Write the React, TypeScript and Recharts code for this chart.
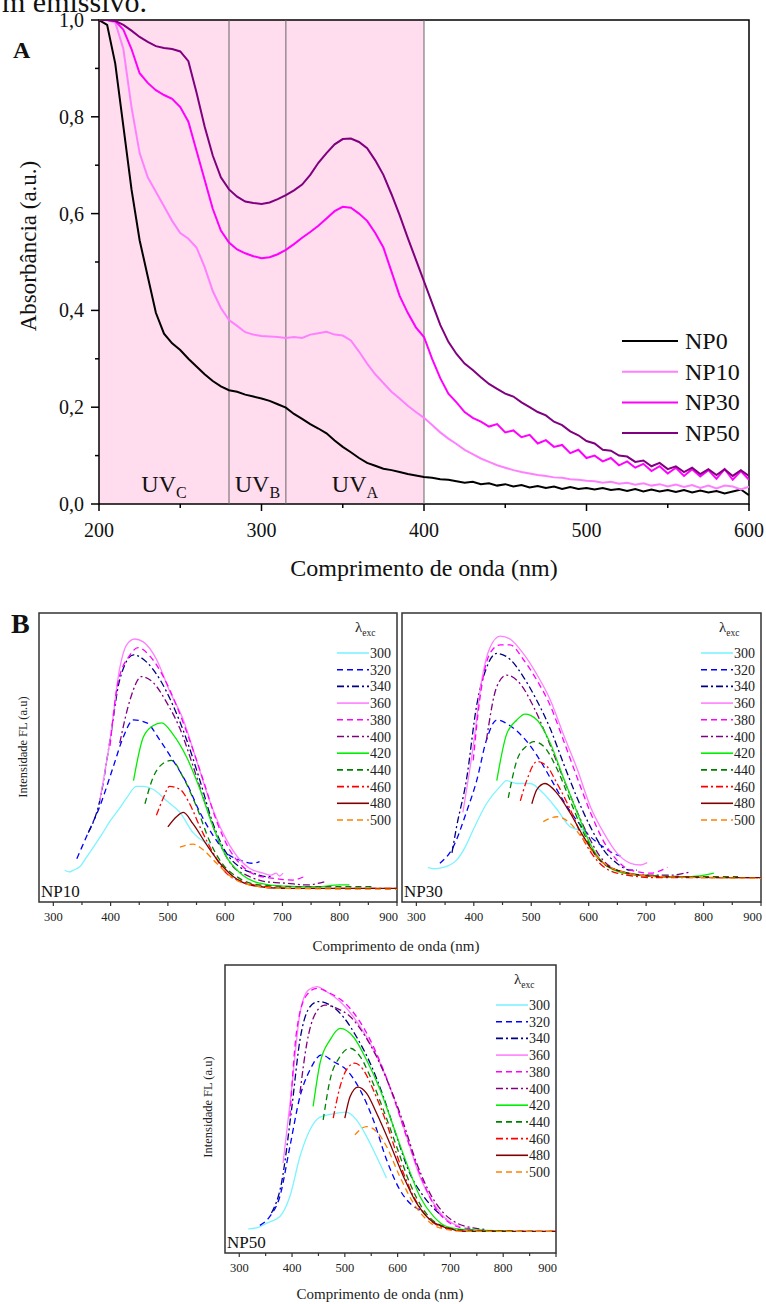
import { LineChart, Line, XAxis, YAxis, ReferenceArea, ReferenceLine } from "recharts"

const SERIF = '"Liberation Serif", "Times New Roman", Times, serif'

// ---------- panel A: absorbance ----------
const absWl = [
  200, 205, 210, 215, 220, 225, 230, 235, 240, 245,
  250, 255, 260, 265, 270, 275, 280, 285, 290, 295,
  300, 305, 310, 315, 320, 325, 330, 335, 340, 345,
  350, 355, 360, 365, 370, 375, 380, 385, 390, 395,
  400, 405, 410, 415, 420, 425, 430, 435, 440, 445,
  450, 455, 460, 465, 470, 475, 480, 485, 490, 495,
  500, 505, 510, 515, 520, 525, 530, 535, 540, 545,
  550, 555, 560, 565, 570, 575, 580, 585, 590, 595,
  600,
]
const absNP0 = [
  1.0, 0.99, 0.91, 0.78, 0.65, 0.545, 0.47, 0.395, 0.352, 0.332,
  0.318, 0.3, 0.284, 0.268, 0.254, 0.243, 0.235, 0.232, 0.226, 0.222,
  0.218, 0.213, 0.206, 0.199, 0.186, 0.176, 0.165, 0.156, 0.146, 0.131,
  0.118, 0.107, 0.095, 0.085, 0.079, 0.073, 0.07, 0.066, 0.062, 0.059,
  0.056, 0.054, 0.051, 0.05, 0.047, 0.044, 0.046, 0.041, 0.043, 0.038,
  0.041, 0.036, 0.039, 0.034, 0.037, 0.033, 0.036, 0.031, 0.035, 0.031,
  0.033, 0.03, 0.033, 0.029, 0.031, 0.027, 0.031, 0.026, 0.03, 0.026,
  0.029, 0.025, 0.029, 0.024, 0.028, 0.024, 0.027, 0.022, 0.026, 0.03,
  0.018,
]
const absNP10 = [
  1.0, 1.0, 0.995, 0.94, 0.82, 0.725, 0.675, 0.645, 0.615, 0.585,
  0.56, 0.548, 0.53, 0.49, 0.44, 0.405, 0.38, 0.368, 0.355, 0.35,
  0.347, 0.346, 0.345, 0.343, 0.345, 0.343, 0.35, 0.353, 0.356, 0.35,
  0.348, 0.338, 0.315, 0.29, 0.268, 0.25, 0.232, 0.218, 0.203, 0.19,
  0.178, 0.163, 0.148, 0.135, 0.124, 0.112, 0.103, 0.094, 0.087, 0.08,
  0.075, 0.07, 0.066, 0.063, 0.06, 0.058, 0.055, 0.054, 0.051, 0.05,
  0.048, 0.047, 0.044, 0.046, 0.042, 0.044, 0.04, 0.043, 0.038, 0.041,
  0.036, 0.04, 0.035, 0.039, 0.033, 0.038, 0.032, 0.038, 0.036, 0.03,
  0.036,
]
const absNP30 = [
  1.0, 1.0, 0.998, 0.98, 0.94, 0.89, 0.87, 0.855, 0.845, 0.837,
  0.82, 0.79, 0.73, 0.67, 0.61, 0.565, 0.54, 0.526, 0.518, 0.512,
  0.508, 0.51, 0.516, 0.525, 0.537, 0.55, 0.562, 0.575, 0.59, 0.605,
  0.614, 0.612, 0.6, 0.585, 0.56, 0.53, 0.48, 0.43, 0.395, 0.365,
  0.345, 0.3, 0.26, 0.228, 0.21, 0.19, 0.178, 0.17, 0.16, 0.165,
  0.148, 0.152, 0.138, 0.143, 0.125, 0.132, 0.118, 0.122, 0.105, 0.112,
  0.095, 0.1, 0.088, 0.095, 0.08, 0.088, 0.075, 0.083, 0.068, 0.078,
  0.063, 0.075, 0.058, 0.072, 0.057, 0.07, 0.052, 0.072, 0.05, 0.068,
  0.05,
]
const absNP50 = [
  1.0, 1.0, 0.998, 0.99, 0.978, 0.965, 0.955, 0.946, 0.942, 0.94,
  0.935, 0.915, 0.85, 0.78, 0.72, 0.675, 0.65, 0.635, 0.625, 0.622,
  0.62, 0.623, 0.63, 0.638, 0.648, 0.66, 0.68, 0.705, 0.725, 0.743,
  0.754, 0.755, 0.748, 0.735, 0.71, 0.68, 0.64, 0.597, 0.55, 0.505,
  0.46, 0.415, 0.37, 0.335, 0.31, 0.29, 0.277, 0.262, 0.248, 0.238,
  0.228, 0.222, 0.21, 0.2, 0.19, 0.183, 0.17, 0.163, 0.15, 0.142,
  0.13, 0.125, 0.112, 0.11, 0.1, 0.098, 0.087, 0.09, 0.078, 0.085,
  0.072, 0.078, 0.066, 0.075, 0.062, 0.072, 0.06, 0.072, 0.058, 0.07,
  0.058,
]
const absNames = ["NP0", "NP10", "NP30", "NP50"]
const absColors = ["#000000", "#ff80ff", "#ff00ff", "#800080"]
const absTicksX = [200, 250, 300, 350, 400, 450, 500, 550, 600]
const absTicksY = [0, 0.1, 0.2, 0.3, 0.4, 0.5, 0.6, 0.7, 0.8, 0.9, 1.0]
const uvBands = [
  { x1: 200, x2: 280, sub: "C" },
  { x1: 280, x2: 315, sub: "B" },
  { x1: 315, x2: 400, sub: "A" },
]

const absRows = absWl.map((wl, i) => ({
  wl,
  NP0: absNP0[i],
  NP10: absNP10[i],
  NP30: absNP30[i],
  NP50: absNP50[i],
}))

// ---------- panel B: fluorescence, one array per excitation ----------
const exc = [300, 320, 340, 360, 380, 400, 420, 440, 460, 480, 500]
const excColors = ["#7cf4ff", "#0000ff", "#000080", "#ff80ff", "#ff00ff", "#800080", "#00ee00", "#008000", "#ff0000", "#800000", "#ff8000"]
const excDash = ["", "6 4", "7 3 2 3", "", "6 4", "7 3 2 3", "", "6 4", "7 3 2 3", "", "6 4"]
const flTicksX = [300, 350, 400, 450, 500, 550, 600, 650, 700, 750, 800, 850, 900]

const np10_300 = [[320, 0.11], [328, 0.104], [335, 0.11], [346, 0.122], [358, 0.155], [370, 0.19], [385, 0.235], [399, 0.28], [414, 0.32], [428, 0.36], [445, 0.4], [457, 0.4], [474, 0.39], [498, 0.35], [521, 0.31], [544, 0.24], [562, 0.21], [575, 0.2]]
const np10_320 = [[341, 0.15], [361, 0.24], [381, 0.33], [405, 0.47], [422, 0.57], [440, 0.63], [463, 0.62], [486, 0.56], [509, 0.49], [533, 0.41], [556, 0.31], [579, 0.23], [602, 0.17], [626, 0.145], [649, 0.134], [660, 0.14]]
const np10_340 = [[361, 0.24], [381, 0.35], [399, 0.56], [416, 0.77], [440, 0.855], [463, 0.83], [486, 0.77], [509, 0.68], [533, 0.56], [556, 0.42], [579, 0.27], [602, 0.17], [626, 0.12], [649, 0.1], [672, 0.088], [680, 0.09]]
const np10_360 = [[381, 0.35], [399, 0.56], [416, 0.81], [428, 0.89], [442, 0.91], [457, 0.9], [480, 0.84], [503, 0.73], [527, 0.63], [550, 0.49], [573, 0.35], [596, 0.24], [620, 0.16], [643, 0.116], [666, 0.1], [680, 0.093], [689, 0.1], [695, 0.09], [701, 0.1]]
const np10_380 = [[399, 0.54], [413, 0.76], [434, 0.855], [448, 0.88], [469, 0.85], [492, 0.78], [515, 0.68], [538, 0.56], [562, 0.42], [585, 0.28], [608, 0.18], [631, 0.122], [654, 0.093], [684, 0.082], [718, 0.076], [738, 0.088]]
const np10_400 = [[416, 0.55], [434, 0.7], [454, 0.78], [474, 0.76], [498, 0.69], [521, 0.6], [544, 0.47], [567, 0.33], [591, 0.2], [614, 0.122], [637, 0.093], [672, 0.07], [707, 0.065], [742, 0.059], [773, 0.07]]
const np10_420 = [[440, 0.42], [457, 0.57], [474, 0.61], [489, 0.62], [509, 0.58], [533, 0.5], [556, 0.39], [579, 0.26], [602, 0.157], [626, 0.1], [660, 0.065], [701, 0.055], [759, 0.053], [800, 0.059], [817, 0.059]]
const np10_440 = [[460, 0.34], [474, 0.43], [492, 0.48], [506, 0.49], [527, 0.43], [550, 0.33], [573, 0.21], [596, 0.13], [620, 0.088], [660, 0.059], [730, 0.053], [788, 0.053], [860, 0.053]]
const np10_460 = [[480, 0.3], [492, 0.36], [503, 0.4], [521, 0.39], [538, 0.34], [556, 0.26], [579, 0.17], [602, 0.1], [631, 0.07], [672, 0.053], [730, 0.047], [900, 0.047]]
const np10_480 = [[500, 0.26], [515, 0.295], [527, 0.31], [544, 0.27], [567, 0.2], [591, 0.134], [614, 0.088], [643, 0.059], [701, 0.047], [900, 0.047]]
const np10_500 = [[521, 0.19], [544, 0.2], [562, 0.18], [585, 0.134], [614, 0.082], [643, 0.059], [701, 0.047], [900, 0.044]]

const np30_300 = [[320, 0.12], [330, 0.115], [341, 0.117], [355, 0.125], [370, 0.145], [385, 0.19], [399, 0.25], [422, 0.34], [446, 0.4], [457, 0.42], [475, 0.41], [498, 0.41], [521, 0.376], [545, 0.32], [568, 0.26], [585, 0.25], [594, 0.25]]
const np30_320 = [[341, 0.134], [364, 0.19], [387, 0.31], [405, 0.42], [422, 0.56], [440, 0.63], [463, 0.61], [486, 0.57], [509, 0.51], [533, 0.43], [556, 0.35], [580, 0.28], [603, 0.226], [626, 0.19], [649, 0.163], [655, 0.16]]
const np30_340 = [[362, 0.17], [370, 0.26], [387, 0.42], [405, 0.68], [422, 0.81], [440, 0.86], [463, 0.84], [486, 0.78], [509, 0.7], [533, 0.6], [556, 0.48], [580, 0.36], [603, 0.26], [626, 0.18], [649, 0.134], [673, 0.11], [684, 0.11]]
const np30_360 = [[381, 0.31], [399, 0.54], [414, 0.77], [428, 0.88], [446, 0.92], [463, 0.91], [486, 0.86], [509, 0.79], [533, 0.7], [556, 0.58], [580, 0.46], [603, 0.33], [626, 0.24], [649, 0.17], [673, 0.134], [690, 0.128], [702, 0.136]]
const np30_380 = [[399, 0.49], [411, 0.71], [428, 0.86], [446, 0.89], [463, 0.89], [486, 0.84], [509, 0.77], [533, 0.68], [556, 0.56], [580, 0.43], [603, 0.31], [626, 0.21], [649, 0.145], [673, 0.11], [708, 0.1], [737, 0.12]]
const np30_400 = [[422, 0.56], [440, 0.745], [457, 0.785], [480, 0.757], [504, 0.676], [527, 0.572], [550, 0.457], [574, 0.34], [597, 0.238], [620, 0.157], [649, 0.11], [690, 0.093], [743, 0.093], [778, 0.105]]
const np30_420 = [[440, 0.42], [457, 0.58], [475, 0.63], [489, 0.65], [510, 0.63], [533, 0.55], [556, 0.43], [580, 0.31], [603, 0.2], [626, 0.134], [661, 0.1], [719, 0.088], [778, 0.088], [801, 0.093], [818, 0.1]]
const np30_440 = [[460, 0.36], [475, 0.49], [492, 0.54], [504, 0.555], [521, 0.54], [545, 0.46], [568, 0.35], [591, 0.24], [614, 0.157], [649, 0.11], [696, 0.093], [778, 0.088], [860, 0.088]]
const np30_460 = [[481, 0.35], [492, 0.42], [510, 0.486], [527, 0.47], [545, 0.41], [568, 0.32], [591, 0.215], [614, 0.145], [649, 0.1], [719, 0.084], [900, 0.084]]
const np30_480 = [[501, 0.34], [510, 0.39], [524, 0.41], [545, 0.376], [568, 0.307], [591, 0.226], [614, 0.157], [649, 0.11], [719, 0.088], [900, 0.084]]
const np30_500 = [[521, 0.278], [545, 0.295], [568, 0.272], [591, 0.215], [614, 0.157], [649, 0.11], [719, 0.088], [900, 0.082]]

const np50_300 = [[317, 0.084], [335, 0.088], [352, 0.104], [377, 0.127], [396, 0.197], [415, 0.335], [434, 0.428], [453, 0.472], [478, 0.483], [503, 0.489], [522, 0.462], [541, 0.405], [560, 0.335], [579, 0.26]]
const np50_320 = [[339, 0.096], [358, 0.127], [377, 0.197], [396, 0.37], [415, 0.543], [434, 0.636], [456, 0.688], [478, 0.665], [503, 0.636], [529, 0.566], [554, 0.462], [579, 0.324], [604, 0.22], [630, 0.162], [642, 0.15]]
const np50_340 = [[361, 0.139], [380, 0.243], [399, 0.497], [415, 0.74], [434, 0.855], [450, 0.873], [472, 0.861], [497, 0.82], [522, 0.751], [548, 0.659], [573, 0.543], [598, 0.405], [623, 0.277], [649, 0.197], [674, 0.145], [693, 0.116]]
const np50_360 = [[383, 0.312], [399, 0.566], [415, 0.832], [431, 0.913], [447, 0.925], [465, 0.908], [491, 0.873], [516, 0.821], [541, 0.751], [567, 0.659], [592, 0.543], [617, 0.405], [642, 0.266], [668, 0.173], [693, 0.116], [718, 0.092]]
const np50_380 = [[396, 0.474], [409, 0.775], [428, 0.896], [447, 0.919], [472, 0.902], [497, 0.873], [522, 0.821], [548, 0.74], [573, 0.636], [598, 0.509], [623, 0.37], [649, 0.243], [674, 0.15], [699, 0.104], [724, 0.087], [740, 0.085]]
const np50_400 = [[415, 0.555], [428, 0.728], [443, 0.827], [462, 0.861], [484, 0.85], [510, 0.821], [535, 0.763], [560, 0.682], [585, 0.578], [611, 0.451], [636, 0.312], [661, 0.208], [687, 0.139], [712, 0.104], [743, 0.087], [769, 0.081]]
const np50_420 = [[440, 0.509], [453, 0.659], [472, 0.74], [491, 0.78], [516, 0.751], [541, 0.671], [567, 0.566], [592, 0.439], [617, 0.312], [642, 0.197], [668, 0.127], [693, 0.092], [731, 0.081], [819, 0.077]]
const np50_440 = [[459, 0.462], [472, 0.601], [491, 0.682], [510, 0.711], [529, 0.682], [548, 0.613], [573, 0.497], [598, 0.37], [623, 0.243], [649, 0.15], [674, 0.104], [718, 0.081], [794, 0.077], [900, 0.075]]
const np50_460 = [[478, 0.468], [491, 0.578], [503, 0.636], [519, 0.659], [535, 0.636], [554, 0.566], [579, 0.451], [604, 0.312], [630, 0.197], [655, 0.127], [680, 0.092], [731, 0.075], [900, 0.075]]
const np50_480 = [[500, 0.468], [510, 0.543], [525, 0.576], [541, 0.555], [560, 0.486], [585, 0.382], [611, 0.266], [636, 0.173], [661, 0.116], [693, 0.087], [731, 0.075], [900, 0.075]]
const np50_500 = [[519, 0.41], [541, 0.439], [560, 0.422], [579, 0.37], [604, 0.266], [630, 0.173], [655, 0.116], [680, 0.087], [731, 0.075], [900, 0.075]]

const np10Curves = [np10_300, np10_320, np10_340, np10_360, np10_380, np10_400, np10_420, np10_440, np10_460, np10_480, np10_500]
const np30Curves = [np30_300, np30_320, np30_340, np30_360, np30_380, np30_400, np30_420, np30_440, np30_460, np30_480, np30_500]
const np50Curves = [np50_300, np50_320, np50_340, np50_360, np50_380, np50_400, np50_420, np50_440, np50_460, np50_480, np50_500]

const toXY = (pts: number[][]) => pts.map(([x, y]) => ({ x, y }))

function AbsXTick({ x, y, payload }: any) {
  const major = payload.value % 100 === 0
  return (
    <g>
      <line x1={x} y1={y} x2={x} y2={y + (major ? 7 : 4)} stroke="#000" strokeWidth={1.5} />
      {major && (
        <text x={x} y={y + 33} textAnchor="middle" fontFamily={SERIF} fontSize={20} fill="#111">
          {payload.value}
        </text>
      )}
    </g>
  )
}

function AbsYTick({ x, y, payload }: any) {
  const major = Math.round(payload.value * 10) % 2 === 0
  return (
    <g>
      <line x1={x} y1={y} x2={x - (major ? 8 : 4)} y2={y} stroke="#000" strokeWidth={1.5} />
      {major && (
        <text x={x - 15} y={y + 7} textAnchor="end" fontFamily={SERIF} fontSize={20} fill="#111">
          {payload.value.toFixed(1).replace(".", ",")}
        </text>
      )}
    </g>
  )
}

function UvLabel({ viewBox, sub }: any) {
  if (!viewBox) return null
  const cx = viewBox.x + viewBox.width / 2
  const by = viewBox.y + viewBox.height - 12
  return (
    <text x={cx} y={by} textAnchor="middle" fontFamily={SERIF} fontSize={24} fill="#111">
      UV<tspan fontSize={16} dy={6}>{sub}</tspan>
    </text>
  )
}

function FlXTick({ x, y, payload }: any) {
  const major = payload.value % 100 === 0
  // the last label sits against the frame edge, as in the source figure
  const last = payload.value === 900
  return (
    <g>
      <line x1={x} y1={y} x2={x} y2={y + (major ? 4 : 3)} stroke="#333" strokeWidth={1.2} />
      {major && (
        <text x={last ? x + 1 : x} y={y + 19} textAnchor={last ? "end" : "middle"} fontFamily={SERIF} fontSize={12.5} fill="#222">
          {payload.value}
        </text>
      )}
    </g>
  )
}

interface Box {
  left: number
  top: number
  width: number
  height: number
}

function FlPanel({ name, curves, box, xMin }: { name: string; curves: number[][][]; box: Box; xMin: number }) {
  const W = box.width + 50
  const H = box.height + 40
  const R = 40 + box.width
  const T = 10
  return (
    <div style={{ position: "absolute", left: box.left - 40, top: box.top - 10, width: W, height: H }}>
      <LineChart width={W} height={H} margin={{ top: 10, right: 10, left: 0, bottom: 0 }}>
        <XAxis
          type="number"
          dataKey="x"
          domain={[xMin, 900]}
          ticks={flTicksX}
          interval={0}
          allowDataOverflow
          axisLine={false}
          tickLine={false}
          tickSize={0}
          tickMargin={0}
          height={30}
          tick={<FlXTick />}
        />
        <YAxis type="number" domain={[0, 1]} width={40} tick={false} axisLine={false} tickLine={false} allowDataOverflow />
        {curves.map((pts, i) => (
          <Line
            key={exc[i]}
            data={toXY(pts)}
            dataKey="y"
            name={String(exc[i])}
            type="monotone"
            stroke={excColors[i]}
            strokeDasharray={excDash[i] || undefined}
            strokeWidth={1.3}
            dot={false}
            isAnimationActive={false}
          />
        ))}
        <ReferenceArea x1={xMin} x2={900} y1={0} y2={1} fill="none" stroke="#333" strokeWidth={1.5} />
      </LineChart>
      <svg width={W} height={H} style={{ position: "absolute", left: 0, top: 0, pointerEvents: "none" }}>
        <text x={R - 42} y={T + 19} fontFamily={SERIF} fontSize={15} fill="#222">
          λ<tspan fontSize={9.5} dy={4}>exc</tspan>
        </text>
        {exc.map((e, i) => (
          <g key={e}>
            <line
              x1={R - 60}
              x2={R - 28}
              y1={T + 40 + i * 16.7}
              y2={T + 40 + i * 16.7}
              stroke={excColors[i]}
              strokeWidth={1.6}
              strokeDasharray={excDash[i] || undefined}
            />
            <text x={R - 27} y={T + 45 + i * 16.7} fontFamily={SERIF} fontSize={14} fill="#222">
              {e}
            </text>
          </g>
        ))}
        <text x={42} y={T + box.height - 5} fontFamily={SERIF} fontSize={17} fill="#111">
          {name}
        </text>
      </svg>
    </div>
  )
}

export default function App() {
  return (
    <div style={{ position: "absolute", left: 0, top: 0, width: 766, height: 1304, background: "#fff", overflow: "hidden" }}>
      <div style={{ position: "absolute", left: 0, top: 0 }}>
        <LineChart width={766} height={580} data={absRows} margin={{ top: 20, right: 17, left: 39, bottom: 26 }}>
          {uvBands.map((b) => (
            <ReferenceArea
              key={"band" + b.sub}
              x1={b.x1}
              x2={b.x2}
              y1={0}
              y2={1}
              fill="#ffdcee"
              fillOpacity={1}
              stroke="none"
              label={<UvLabel sub={b.sub} />}
            />
          ))}
          {uvBands.map((b) => (
            <ReferenceLine key={"edge" + b.sub} x={b.x2} stroke="#666" strokeWidth={1} />
          ))}
          <XAxis
            type="number"
            dataKey="wl"
            domain={[200, 600]}
            ticks={absTicksX}
            interval={0}
            allowDataOverflow
            axisLine={false}
            tickLine={false}
            tickSize={0}
            tickMargin={0}
            height={50}
            tick={<AbsXTick />}
          />
          <YAxis
            type="number"
            domain={[0, 1]}
            ticks={absTicksY}
            interval={0}
            allowDataOverflow
            axisLine={false}
            tickLine={false}
            tickSize={0}
            tickMargin={0}
            width={60}
            tick={<AbsYTick />}
          />
          {absNames.map((n, i) => (
            <Line key={n} dataKey={n} type="linear" stroke={absColors[i]} strokeWidth={2} dot={false} isAnimationActive={false} />
          ))}
          <ReferenceArea x1={200} x2={600} y1={0} y2={1} fill="none" stroke="#000" strokeWidth={1.5} />
        </LineChart>
      </div>

      <FlPanel name="NP10" curves={np10Curves} box={{ left: 39, top: 613, width: 358, height: 289 }} xMin={275} />
      <FlPanel name="NP30" curves={np30Curves} box={{ left: 402, top: 613, width: 359, height: 289 }} xMin={275} />
      <FlPanel name="NP50" curves={np50Curves} box={{ left: 225, top: 965, width: 331, height: 288 }} xMin={273} />

      <svg width={766} height={1304} style={{ position: "absolute", left: 0, top: 0, pointerEvents: "none" }}>
        <text x={2} y={12} fontFamily={SERIF} fontSize={30} fill="#111">m emissivo.</text>
        <text x={13} y={58} fontFamily={SERIF} fontSize={24} fontWeight="bold" fill="#111">A</text>
        <text transform="translate(36,246) rotate(-90)" textAnchor="middle" fontFamily={SERIF} fontSize={23} fill="#111">
          Absorbância (a.u.)
        </text>
        <text x={424} y={576} textAnchor="middle" fontFamily={SERIF} fontSize={24} fill="#111">
          Comprimento de onda (nm)
        </text>
        {absNames.map((n, i) => (
          <g key={n}>
            <line x1={622} x2={678} y1={341 + i * 30.7} y2={341 + i * 30.7} stroke={absColors[i]} strokeWidth={2} />
            <text x={685} y={349 + i * 30.7} fontFamily={SERIF} fontSize={24} fill="#111">{n}</text>
          </g>
        ))}

        <text x={11} y={633} fontFamily={SERIF} fontSize={28} fontWeight="bold" fill="#111">B</text>
        <text transform="translate(27,747) rotate(-90)" textAnchor="middle" fontFamily={SERIF} fontSize={12.5} fill="#222">
          Intensidade FL (a.u)
        </text>
        <text transform="translate(212,1107) rotate(-90)" textAnchor="middle" fontFamily={SERIF} fontSize={12.5} fill="#222">
          Intensidade FL (a.u)
        </text>
        <text x={396} y={951} textAnchor="middle" fontFamily={SERIF} fontSize={15} fill="#222">
          Comprimento de onda (nm)
        </text>
        <text x={380} y={1299} textAnchor="middle" fontFamily={SERIF} fontSize={15} fill="#222">
          Comprimento de onda (nm)
        </text>
      </svg>
    </div>
  )
}
